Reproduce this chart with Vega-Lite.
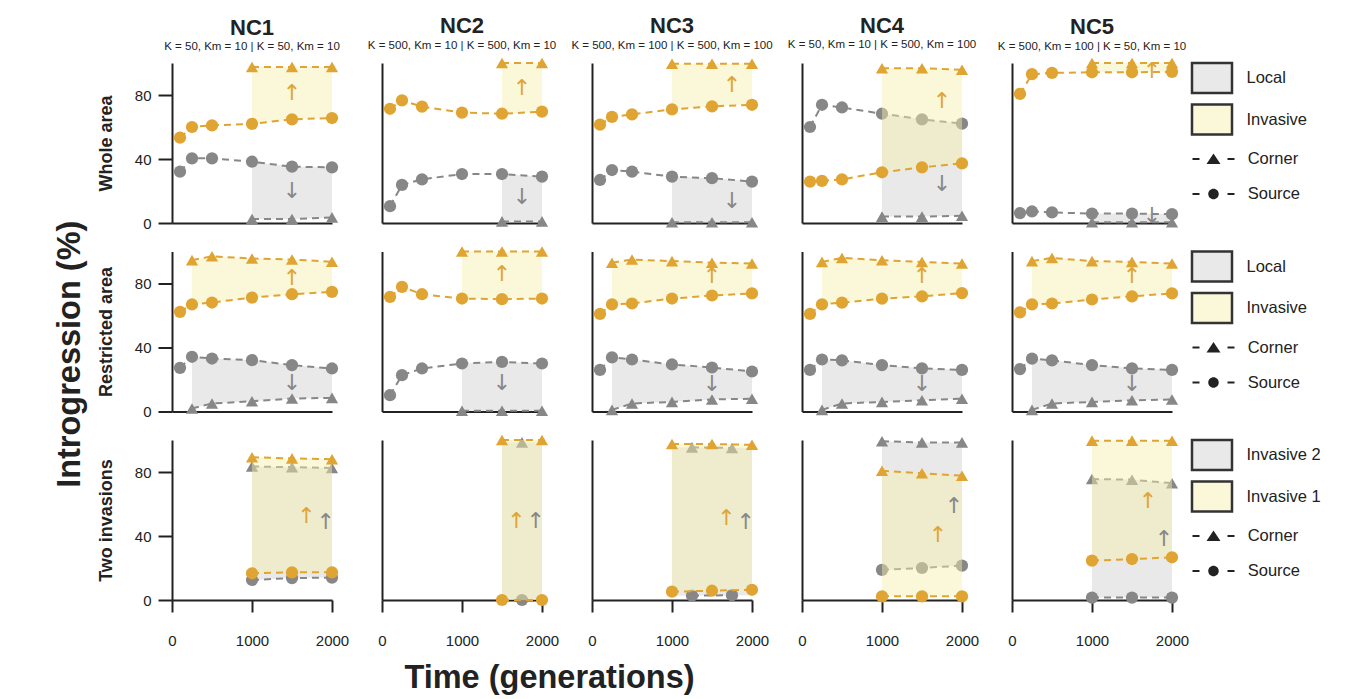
{
"$schema":"https://vega.github.io/schema/vega-lite/v6.json",
"padding":{"left":53,"top":14,"right":5,"bottom":2},
"title":{"text":"Introgression (%)","orient":"left","anchor":"middle","fontSize":32.5,"offset":11},
"datasets":{"d":[
{"p":11,"s":"o","l":"Source","t":100,"v":53.4},{"p":11,"s":"o","l":"Source","t":250,"v":60},{"p":11,"s":"o","l":"Source","t":500,"v":61},{"p":11,"s":"o","l":"Source","t":1000,"v":62},{"p":11,"s":"o","l":"Source","t":1500,"v":64.8},{"p":11,"s":"o","l":"Source","t":2000,"v":65.6},
{"p":11,"s":"g","l":"Source","t":100,"v":32.1},{"p":11,"s":"g","l":"Source","t":250,"v":40.4},{"p":11,"s":"g","l":"Source","t":500,"v":40.4},{"p":11,"s":"g","l":"Source","t":1000,"v":38.3},{"p":11,"s":"g","l":"Source","t":1500,"v":35.2},{"p":11,"s":"g","l":"Source","t":2000,"v":34.8},
{"p":11,"s":"o","l":"Corner","t":1000,"v":97.5},{"p":11,"s":"o","l":"Corner","t":1500,"v":97.5},{"p":11,"s":"o","l":"Corner","t":2000,"v":97.5},
{"p":11,"s":"g","l":"Corner","t":1000,"v":2.5},{"p":11,"s":"g","l":"Corner","t":1500,"v":2.5},{"p":11,"s":"g","l":"Corner","t":2000,"v":3.5},
{"p":11,"s":"g","b":"Local","t":1000,"lo":2.5,"hi":38.3},{"p":11,"s":"g","b":"Local","t":1500,"lo":2.5,"hi":35.2},{"p":11,"s":"g","b":"Local","t":2000,"lo":3.5,"hi":34.8},
{"p":11,"s":"o","b":"Invasive","t":1000,"lo":62,"hi":97.5},{"p":11,"s":"o","b":"Invasive","t":1500,"lo":64.8,"hi":97.5},{"p":11,"s":"o","b":"Invasive","t":2000,"lo":65.6,"hi":97.5},
{"p":11,"s":"o","a":"↑","t":1500,"v":81.3},{"p":11,"s":"g","a":"↓","t":1500,"v":19.7},

{"p":12,"s":"o","l":"Source","t":100,"v":71.4},{"p":12,"s":"o","l":"Source","t":250,"v":76.6},{"p":12,"s":"o","l":"Source","t":500,"v":72.7},{"p":12,"s":"o","l":"Source","t":1000,"v":69},{"p":12,"s":"o","l":"Source","t":1500,"v":68.3},{"p":12,"s":"o","l":"Source","t":2000,"v":69.6},
{"p":12,"s":"g","l":"Source","t":100,"v":10.5},{"p":12,"s":"g","l":"Source","t":250,"v":23.8},{"p":12,"s":"g","l":"Source","t":500,"v":27.3},{"p":12,"s":"g","l":"Source","t":1000,"v":30.6},{"p":12,"s":"g","l":"Source","t":1500,"v":30.6},{"p":12,"s":"g","l":"Source","t":2000,"v":29},
{"p":12,"s":"o","l":"Corner","t":1500,"v":100},{"p":12,"s":"o","l":"Corner","t":2000,"v":100},
{"p":12,"s":"g","l":"Corner","t":1500,"v":1},{"p":12,"s":"g","l":"Corner","t":2000,"v":1},
{"p":12,"s":"g","b":"Local","t":1500,"lo":1,"hi":30.6},{"p":12,"s":"g","b":"Local","t":2000,"lo":1,"hi":29},
{"p":12,"s":"o","b":"Invasive","t":1500,"lo":68.3,"hi":100},{"p":12,"s":"o","b":"Invasive","t":2000,"lo":69.6,"hi":100},
{"p":12,"s":"o","a":"↑","t":1750,"v":84.3},{"p":12,"s":"g","a":"↓","t":1750,"v":16},

{"p":13,"s":"o","l":"Source","t":100,"v":61.5},{"p":13,"s":"o","l":"Source","t":250,"v":66.3},{"p":13,"s":"o","l":"Source","t":500,"v":67.9},{"p":13,"s":"o","l":"Source","t":1000,"v":71},{"p":13,"s":"o","l":"Source","t":1500,"v":72.9},{"p":13,"s":"o","l":"Source","t":2000,"v":73.9},
{"p":13,"s":"g","l":"Source","t":100,"v":26.9},{"p":13,"s":"g","l":"Source","t":250,"v":33.1},{"p":13,"s":"g","l":"Source","t":500,"v":32.1},{"p":13,"s":"g","l":"Source","t":1000,"v":29},{"p":13,"s":"g","l":"Source","t":1500,"v":28},{"p":13,"s":"g","l":"Source","t":2000,"v":25.9},
{"p":13,"s":"o","l":"Corner","t":1000,"v":99.5},{"p":13,"s":"o","l":"Corner","t":1500,"v":99.5},{"p":13,"s":"o","l":"Corner","t":2000,"v":99.5},
{"p":13,"s":"g","l":"Corner","t":1000,"v":0.5},{"p":13,"s":"g","l":"Corner","t":1500,"v":0.5},{"p":13,"s":"g","l":"Corner","t":2000,"v":0.5},
{"p":13,"s":"g","b":"Local","t":1000,"lo":0.5,"hi":29},{"p":13,"s":"g","b":"Local","t":1500,"lo":0.5,"hi":28},{"p":13,"s":"g","b":"Local","t":2000,"lo":0.5,"hi":25.9},
{"p":13,"s":"o","b":"Invasive","t":1000,"lo":71,"hi":99.5},{"p":13,"s":"o","b":"Invasive","t":1500,"lo":72.9,"hi":99.5},{"p":13,"s":"o","b":"Invasive","t":2000,"lo":73.9,"hi":99.5},
{"p":13,"s":"o","a":"↑","t":1750,"v":86.4},{"p":13,"s":"g","a":"↓","t":1750,"v":14},

{"p":14,"s":"o","l":"Source","t":100,"v":25.9},{"p":14,"s":"o","l":"Source","t":250,"v":26.3},{"p":14,"s":"o","l":"Source","t":500,"v":27.3},{"p":14,"s":"o","l":"Source","t":1000,"v":31.7},{"p":14,"s":"o","l":"Source","t":1500,"v":34.8},{"p":14,"s":"o","l":"Source","t":2000,"v":37.3},
{"p":14,"s":"g","l":"Source","t":100,"v":60},{"p":14,"s":"g","l":"Source","t":250,"v":73.9},{"p":14,"s":"g","l":"Source","t":500,"v":72.2},{"p":14,"s":"g","l":"Source","t":1000,"v":68.3},{"p":14,"s":"g","l":"Source","t":1500,"v":64.8},{"p":14,"s":"g","l":"Source","t":2000,"v":62.1},
{"p":14,"s":"o","l":"Corner","t":1000,"v":96.7},{"p":14,"s":"o","l":"Corner","t":1500,"v":96.7},{"p":14,"s":"o","l":"Corner","t":2000,"v":95.8},
{"p":14,"s":"g","l":"Corner","t":1000,"v":4},{"p":14,"s":"g","l":"Corner","t":1500,"v":4},{"p":14,"s":"g","l":"Corner","t":2000,"v":4.5},
{"p":14,"s":"g","b":"Local","t":1000,"lo":4,"hi":68.3},{"p":14,"s":"g","b":"Local","t":1500,"lo":4,"hi":64.8},{"p":14,"s":"g","b":"Local","t":2000,"lo":4.5,"hi":62.1},
{"p":14,"s":"o","b":"Invasive","t":1000,"lo":31.7,"hi":96.7},{"p":14,"s":"o","b":"Invasive","t":1500,"lo":34.8,"hi":96.7},{"p":14,"s":"o","b":"Invasive","t":2000,"lo":37.3,"hi":95.8},
{"p":14,"s":"o","a":"↑","t":1750,"v":76},{"p":14,"s":"g","a":"↓","t":1750,"v":24.3},

{"p":15,"s":"o","l":"Source","t":100,"v":80.7},{"p":15,"s":"o","l":"Source","t":250,"v":93},{"p":15,"s":"o","l":"Source","t":500,"v":93.8},{"p":15,"s":"o","l":"Source","t":1000,"v":94.2},{"p":15,"s":"o","l":"Source","t":1500,"v":94.2},{"p":15,"s":"o","l":"Source","t":2000,"v":94.5},
{"p":15,"s":"g","l":"Source","t":100,"v":6.2},{"p":15,"s":"g","l":"Source","t":250,"v":7.2},{"p":15,"s":"g","l":"Source","t":500,"v":6.6},{"p":15,"s":"g","l":"Source","t":1000,"v":5.9},{"p":15,"s":"g","l":"Source","t":1500,"v":5.9},{"p":15,"s":"g","l":"Source","t":2000,"v":5.5},
{"p":15,"s":"o","l":"Corner","t":1000,"v":100},{"p":15,"s":"o","l":"Corner","t":1500,"v":100},{"p":15,"s":"o","l":"Corner","t":2000,"v":100},
{"p":15,"s":"g","l":"Corner","t":1000,"v":0.5},{"p":15,"s":"g","l":"Corner","t":1500,"v":0.5},{"p":15,"s":"g","l":"Corner","t":2000,"v":0.5},
{"p":15,"s":"g","b":"Local","t":1000,"lo":0.5,"hi":5.9},{"p":15,"s":"g","b":"Local","t":1500,"lo":0.5,"hi":5.9},{"p":15,"s":"g","b":"Local","t":2000,"lo":0.5,"hi":5.5},
{"p":15,"s":"o","b":"Invasive","t":1000,"lo":94.2,"hi":100},{"p":15,"s":"o","b":"Invasive","t":1500,"lo":94.2,"hi":100},{"p":15,"s":"o","b":"Invasive","t":2000,"lo":94.5,"hi":100},
{"p":15,"s":"o","a":"↑","t":1750,"v":94.7},{"p":15,"s":"g","a":"↓","t":1750,"v":4.5},

{"p":21,"s":"o","l":"Source","t":100,"v":62.3},{"p":21,"s":"o","l":"Source","t":250,"v":66.9},{"p":21,"s":"o","l":"Source","t":500,"v":68.1},{"p":21,"s":"o","l":"Source","t":1000,"v":71.2},{"p":21,"s":"o","l":"Source","t":1500,"v":73.3},{"p":21,"s":"o","l":"Source","t":2000,"v":74.8},
{"p":21,"s":"g","l":"Source","t":100,"v":27.3},{"p":21,"s":"g","l":"Source","t":250,"v":34.2},{"p":21,"s":"g","l":"Source","t":500,"v":33.1},{"p":21,"s":"g","l":"Source","t":1000,"v":32.1},{"p":21,"s":"g","l":"Source","t":1500,"v":29},{"p":21,"s":"g","l":"Source","t":2000,"v":26.9},
{"p":21,"s":"o","l":"Corner","t":250,"v":94.6},{"p":21,"s":"o","l":"Corner","t":500,"v":97},{"p":21,"s":"o","l":"Corner","t":1000,"v":95.6},{"p":21,"s":"o","l":"Corner","t":1500,"v":95},{"p":21,"s":"o","l":"Corner","t":2000,"v":93.6},
{"p":21,"s":"g","l":"Corner","t":250,"v":1.9},{"p":21,"s":"g","l":"Corner","t":500,"v":5},{"p":21,"s":"g","l":"Corner","t":1000,"v":6.4},{"p":21,"s":"g","l":"Corner","t":1500,"v":8.1},{"p":21,"s":"g","l":"Corner","t":2000,"v":8.5},
{"p":21,"s":"g","b":"Local","t":250,"lo":1.9,"hi":34.2},{"p":21,"s":"g","b":"Local","t":500,"lo":5,"hi":33.1},{"p":21,"s":"g","b":"Local","t":1000,"lo":6.4,"hi":32.1},{"p":21,"s":"g","b":"Local","t":1500,"lo":8.1,"hi":29},{"p":21,"s":"g","b":"Local","t":2000,"lo":8.5,"hi":26.9},
{"p":21,"s":"o","b":"Invasive","t":250,"lo":66.9,"hi":94.6},{"p":21,"s":"o","b":"Invasive","t":500,"lo":68.1,"hi":97},{"p":21,"s":"o","b":"Invasive","t":1000,"lo":71.2,"hi":95.6},{"p":21,"s":"o","b":"Invasive","t":1500,"lo":73.3,"hi":95},{"p":21,"s":"o","b":"Invasive","t":2000,"lo":74.8,"hi":93.6},
{"p":21,"s":"o","a":"↑","t":1500,"v":83.6},{"p":21,"s":"g","a":"↓","t":1500,"v":18},

{"p":22,"s":"o","l":"Source","t":100,"v":71.6},{"p":22,"s":"o","l":"Source","t":250,"v":77.9},{"p":22,"s":"o","l":"Source","t":500,"v":73.3},{"p":22,"s":"o","l":"Source","t":1000,"v":70.6},{"p":22,"s":"o","l":"Source","t":1500,"v":70.2},{"p":22,"s":"o","l":"Source","t":2000,"v":70.6},
{"p":22,"s":"g","l":"Source","t":100,"v":10.2},{"p":22,"s":"g","l":"Source","t":250,"v":22.7},{"p":22,"s":"g","l":"Source","t":500,"v":26.9},{"p":22,"s":"g","l":"Source","t":1000,"v":30},{"p":22,"s":"g","l":"Source","t":1500,"v":31},{"p":22,"s":"g","l":"Source","t":2000,"v":30},
{"p":22,"s":"o","l":"Corner","t":1000,"v":100},{"p":22,"s":"o","l":"Corner","t":1500,"v":100},{"p":22,"s":"o","l":"Corner","t":2000,"v":100},
{"p":22,"s":"g","l":"Corner","t":1000,"v":0.5},{"p":22,"s":"g","l":"Corner","t":1500,"v":0.5},{"p":22,"s":"g","l":"Corner","t":2000,"v":0.5},
{"p":22,"s":"g","b":"Local","t":1000,"lo":0.5,"hi":30},{"p":22,"s":"g","b":"Local","t":1500,"lo":0.5,"hi":31},{"p":22,"s":"g","b":"Local","t":2000,"lo":0.5,"hi":30},
{"p":22,"s":"o","b":"Invasive","t":1000,"lo":70.6,"hi":100},{"p":22,"s":"o","b":"Invasive","t":1500,"lo":70.2,"hi":100},{"p":22,"s":"o","b":"Invasive","t":2000,"lo":70.6,"hi":100},
{"p":22,"s":"o","a":"↑","t":1500,"v":85.7},{"p":22,"s":"g","a":"↓","t":1500,"v":18},

{"p":23,"s":"o","l":"Source","t":100,"v":61},{"p":23,"s":"o","l":"Source","t":250,"v":67},{"p":23,"s":"o","l":"Source","t":500,"v":67.5},{"p":23,"s":"o","l":"Source","t":1000,"v":70.6},{"p":23,"s":"o","l":"Source","t":1500,"v":72.5},{"p":23,"s":"o","l":"Source","t":2000,"v":73.8},
{"p":23,"s":"g","l":"Source","t":100,"v":26},{"p":23,"s":"g","l":"Source","t":250,"v":33.8},{"p":23,"s":"g","l":"Source","t":500,"v":32.5},{"p":23,"s":"g","l":"Source","t":1000,"v":29.4},{"p":23,"s":"g","l":"Source","t":1500,"v":27.5},{"p":23,"s":"g","l":"Source","t":2000,"v":25},
{"p":23,"s":"o","l":"Corner","t":250,"v":93},{"p":23,"s":"o","l":"Corner","t":500,"v":95},{"p":23,"s":"o","l":"Corner","t":1000,"v":94},{"p":23,"s":"o","l":"Corner","t":1500,"v":93},{"p":23,"s":"o","l":"Corner","t":2000,"v":92.5},
{"p":23,"s":"g","l":"Corner","t":250,"v":1},{"p":23,"s":"g","l":"Corner","t":500,"v":5},{"p":23,"s":"g","l":"Corner","t":1000,"v":6},{"p":23,"s":"g","l":"Corner","t":1500,"v":7.5},{"p":23,"s":"g","l":"Corner","t":2000,"v":8},
{"p":23,"s":"g","b":"Local","t":250,"lo":1,"hi":33.8},{"p":23,"s":"g","b":"Local","t":500,"lo":5,"hi":32.5},{"p":23,"s":"g","b":"Local","t":1000,"lo":6,"hi":29.4},{"p":23,"s":"g","b":"Local","t":1500,"lo":7.5,"hi":27.5},{"p":23,"s":"g","b":"Local","t":2000,"lo":8,"hi":25},
{"p":23,"s":"o","b":"Invasive","t":250,"lo":67,"hi":93},{"p":23,"s":"o","b":"Invasive","t":500,"lo":67.5,"hi":95},{"p":23,"s":"o","b":"Invasive","t":1000,"lo":70.6,"hi":94},{"p":23,"s":"o","b":"Invasive","t":1500,"lo":72.5,"hi":93},{"p":23,"s":"o","b":"Invasive","t":2000,"lo":73.8,"hi":92.5},
{"p":23,"s":"o","a":"↑","t":1500,"v":85},{"p":23,"s":"g","a":"↓","t":1500,"v":17},

{"p":24,"s":"o","l":"Source","t":100,"v":61},{"p":24,"s":"o","l":"Source","t":250,"v":67},{"p":24,"s":"o","l":"Source","t":500,"v":68},{"p":24,"s":"o","l":"Source","t":1000,"v":70.5},{"p":24,"s":"o","l":"Source","t":1500,"v":72},{"p":24,"s":"o","l":"Source","t":2000,"v":74},
{"p":24,"s":"g","l":"Source","t":100,"v":26},{"p":24,"s":"g","l":"Source","t":250,"v":32.5},{"p":24,"s":"g","l":"Source","t":500,"v":32},{"p":24,"s":"g","l":"Source","t":1000,"v":29},{"p":24,"s":"g","l":"Source","t":1500,"v":27},{"p":24,"s":"g","l":"Source","t":2000,"v":26},
{"p":24,"s":"o","l":"Corner","t":250,"v":93.5},{"p":24,"s":"o","l":"Corner","t":500,"v":96},{"p":24,"s":"o","l":"Corner","t":1000,"v":94.5},{"p":24,"s":"o","l":"Corner","t":1500,"v":93.5},{"p":24,"s":"o","l":"Corner","t":2000,"v":92.5},
{"p":24,"s":"g","l":"Corner","t":250,"v":1},{"p":24,"s":"g","l":"Corner","t":500,"v":5},{"p":24,"s":"g","l":"Corner","t":1000,"v":6},{"p":24,"s":"g","l":"Corner","t":1500,"v":7},{"p":24,"s":"g","l":"Corner","t":2000,"v":8},
{"p":24,"s":"g","b":"Local","t":250,"lo":1,"hi":32.5},{"p":24,"s":"g","b":"Local","t":500,"lo":5,"hi":32},{"p":24,"s":"g","b":"Local","t":1000,"lo":6,"hi":29},{"p":24,"s":"g","b":"Local","t":1500,"lo":7,"hi":27},{"p":24,"s":"g","b":"Local","t":2000,"lo":8,"hi":26},
{"p":24,"s":"o","b":"Invasive","t":250,"lo":67,"hi":93.5},{"p":24,"s":"o","b":"Invasive","t":500,"lo":68,"hi":96},{"p":24,"s":"o","b":"Invasive","t":1000,"lo":70.5,"hi":94.5},{"p":24,"s":"o","b":"Invasive","t":1500,"lo":72,"hi":93.5},{"p":24,"s":"o","b":"Invasive","t":2000,"lo":74,"hi":92.5},
{"p":24,"s":"o","a":"↑","t":1500,"v":85},{"p":24,"s":"g","a":"↓","t":1500,"v":17},

{"p":25,"s":"o","l":"Source","t":100,"v":62},{"p":25,"s":"o","l":"Source","t":250,"v":67},{"p":25,"s":"o","l":"Source","t":500,"v":67.5},{"p":25,"s":"o","l":"Source","t":1000,"v":70},{"p":25,"s":"o","l":"Source","t":1500,"v":72},{"p":25,"s":"o","l":"Source","t":2000,"v":73.8},
{"p":25,"s":"g","l":"Source","t":100,"v":26.5},{"p":25,"s":"g","l":"Source","t":250,"v":33},{"p":25,"s":"g","l":"Source","t":500,"v":32},{"p":25,"s":"g","l":"Source","t":1000,"v":29},{"p":25,"s":"g","l":"Source","t":1500,"v":27},{"p":25,"s":"g","l":"Source","t":2000,"v":26},
{"p":25,"s":"o","l":"Corner","t":250,"v":94},{"p":25,"s":"o","l":"Corner","t":500,"v":96},{"p":25,"s":"o","l":"Corner","t":1000,"v":94},{"p":25,"s":"o","l":"Corner","t":1500,"v":93.5},{"p":25,"s":"o","l":"Corner","t":2000,"v":92.5},
{"p":25,"s":"g","l":"Corner","t":250,"v":1},{"p":25,"s":"g","l":"Corner","t":500,"v":5},{"p":25,"s":"g","l":"Corner","t":1000,"v":6},{"p":25,"s":"g","l":"Corner","t":1500,"v":7},{"p":25,"s":"g","l":"Corner","t":2000,"v":7.5},
{"p":25,"s":"g","b":"Local","t":250,"lo":1,"hi":33},{"p":25,"s":"g","b":"Local","t":500,"lo":5,"hi":32},{"p":25,"s":"g","b":"Local","t":1000,"lo":6,"hi":29},{"p":25,"s":"g","b":"Local","t":1500,"lo":7,"hi":27},{"p":25,"s":"g","b":"Local","t":2000,"lo":7.5,"hi":26},
{"p":25,"s":"o","b":"Invasive","t":250,"lo":67,"hi":94},{"p":25,"s":"o","b":"Invasive","t":500,"lo":67.5,"hi":96},{"p":25,"s":"o","b":"Invasive","t":1000,"lo":70,"hi":94},{"p":25,"s":"o","b":"Invasive","t":1500,"lo":72,"hi":93.5},{"p":25,"s":"o","b":"Invasive","t":2000,"lo":73.8,"hi":92.5},
{"p":25,"s":"o","a":"↑","t":1500,"v":85},{"p":25,"s":"g","a":"↓","t":1500,"v":17},

{"p":31,"s":"o","l":"Corner","t":1000,"v":89.2},{"p":31,"s":"o","l":"Corner","t":1500,"v":88.5},{"p":31,"s":"o","l":"Corner","t":2000,"v":88},
{"p":31,"s":"g","l":"Corner","t":1000,"v":83.5},{"p":31,"s":"g","l":"Corner","t":1500,"v":83},{"p":31,"s":"g","l":"Corner","t":2000,"v":82.5},
{"p":31,"s":"o","l":"Source","t":1000,"v":16.7},{"p":31,"s":"o","l":"Source","t":1500,"v":17.3},{"p":31,"s":"o","l":"Source","t":2000,"v":17.3},
{"p":31,"s":"g","l":"Source","t":1000,"v":12.5},{"p":31,"s":"g","l":"Source","t":1500,"v":13.7},{"p":31,"s":"g","l":"Source","t":2000,"v":14},
{"p":31,"s":"g","b":"Invasive 2","t":1000,"lo":12.5,"hi":83.5},{"p":31,"s":"g","b":"Invasive 2","t":1500,"lo":13.7,"hi":83},{"p":31,"s":"g","b":"Invasive 2","t":2000,"lo":14,"hi":82.5},
{"p":31,"s":"o","b":"Invasive 1","t":1000,"lo":16.7,"hi":89.2},{"p":31,"s":"o","b":"Invasive 1","t":1500,"lo":17.3,"hi":88.5},{"p":31,"s":"o","b":"Invasive 1","t":2000,"lo":17.3,"hi":88},
{"p":31,"s":"o","a":"↑","t":1680,"v":52.5},{"p":31,"s":"g","a":"↑","t":1920,"v":48.5},

{"p":32,"s":"o","l":"Corner","t":1500,"v":100},{"p":32,"s":"o","l":"Corner","t":2000,"v":100},
{"p":32,"s":"o","l":"Source","t":1500,"v":0},{"p":32,"s":"o","l":"Source","t":2000,"v":0},
{"p":32,"s":"g","l":"Corner","t":1750,"v":98.5},{"p":32,"s":"g","l":"Source","t":1750,"v":0},
{"p":32,"s":"g","b":"Invasive 2","t":1500,"lo":0,"hi":98.5},{"p":32,"s":"g","b":"Invasive 2","t":2000,"lo":0,"hi":98.5},
{"p":32,"s":"o","b":"Invasive 1","t":1500,"lo":0,"hi":100},{"p":32,"s":"o","b":"Invasive 1","t":2000,"lo":0,"hi":100},
{"p":32,"s":"o","a":"↑","t":1680,"v":49.6},{"p":32,"s":"g","a":"↑","t":1920,"v":49.6},

{"p":33,"s":"o","l":"Corner","t":1000,"v":97.5},{"p":33,"s":"o","l":"Corner","t":1500,"v":97.5},{"p":33,"s":"o","l":"Corner","t":2000,"v":97},
{"p":33,"s":"g","l":"Corner","t":1250,"v":95.4},{"p":33,"s":"g","l":"Corner","t":1750,"v":95},
{"p":33,"s":"o","l":"Source","t":1000,"v":5.2},{"p":33,"s":"o","l":"Source","t":1500,"v":5.8},{"p":33,"s":"o","l":"Source","t":2000,"v":6.4},
{"p":33,"s":"g","l":"Source","t":1250,"v":2.7},{"p":33,"s":"g","l":"Source","t":1750,"v":3},
{"p":33,"s":"g","b":"Invasive 2","t":1000,"lo":2.7,"hi":95.4},{"p":33,"s":"g","b":"Invasive 2","t":2000,"lo":3,"hi":95},
{"p":33,"s":"o","b":"Invasive 1","t":1000,"lo":5.2,"hi":97.5},{"p":33,"s":"o","b":"Invasive 1","t":1500,"lo":5.8,"hi":97.5},{"p":33,"s":"o","b":"Invasive 1","t":2000,"lo":6.4,"hi":97},
{"p":33,"s":"o","a":"↑","t":1680,"v":51.5},{"p":33,"s":"g","a":"↑","t":1920,"v":49},

{"p":34,"s":"g","l":"Corner","t":1000,"v":99.2},{"p":34,"s":"g","l":"Corner","t":1500,"v":98.5},{"p":34,"s":"g","l":"Corner","t":2000,"v":98.5},
{"p":34,"s":"o","l":"Corner","t":1000,"v":80.8},{"p":34,"s":"o","l":"Corner","t":1500,"v":79.2},{"p":34,"s":"o","l":"Corner","t":2000,"v":77.7},
{"p":34,"s":"g","l":"Source","t":1000,"v":18.8},{"p":34,"s":"g","l":"Source","t":1500,"v":20},{"p":34,"s":"g","l":"Source","t":2000,"v":21.5},
{"p":34,"s":"o","l":"Source","t":1000,"v":2.3},{"p":34,"s":"o","l":"Source","t":1500,"v":2.3},{"p":34,"s":"o","l":"Source","t":2000,"v":2.3},
{"p":34,"s":"g","b":"Invasive 2","t":1000,"lo":18.8,"hi":99.2},{"p":34,"s":"g","b":"Invasive 2","t":1500,"lo":20,"hi":98.5},{"p":34,"s":"g","b":"Invasive 2","t":2000,"lo":21.5,"hi":98.5},
{"p":34,"s":"o","b":"Invasive 1","t":1000,"lo":2.3,"hi":80.8},{"p":34,"s":"o","b":"Invasive 1","t":1500,"lo":2.3,"hi":79.2},{"p":34,"s":"o","b":"Invasive 1","t":2000,"lo":2.3,"hi":77.7},
{"p":34,"s":"o","a":"↑","t":1700,"v":40.5},{"p":34,"s":"g","a":"↑","t":1900,"v":59},

{"p":35,"s":"o","l":"Corner","t":1000,"v":99.6},{"p":35,"s":"o","l":"Corner","t":1500,"v":99.6},{"p":35,"s":"o","l":"Corner","t":2000,"v":99.5},
{"p":35,"s":"g","l":"Corner","t":1000,"v":75.6},{"p":35,"s":"g","l":"Corner","t":1500,"v":75.2},{"p":35,"s":"g","l":"Corner","t":2000,"v":73},
{"p":35,"s":"o","l":"Source","t":1000,"v":24.6},{"p":35,"s":"o","l":"Source","t":1500,"v":25.6},{"p":35,"s":"o","l":"Source","t":2000,"v":26.7},
{"p":35,"s":"g","l":"Source","t":1000,"v":1.5},{"p":35,"s":"g","l":"Source","t":1500,"v":1.5},{"p":35,"s":"g","l":"Source","t":2000,"v":1.5},
{"p":35,"s":"g","b":"Invasive 2","t":1000,"lo":1.5,"hi":75.6},{"p":35,"s":"g","b":"Invasive 2","t":1500,"lo":1.5,"hi":75.2},{"p":35,"s":"g","b":"Invasive 2","t":2000,"lo":1.5,"hi":73},
{"p":35,"s":"o","b":"Invasive 1","t":1000,"lo":24.6,"hi":99.6},{"p":35,"s":"o","b":"Invasive 1","t":1500,"lo":25.6,"hi":99.6},{"p":35,"s":"o","b":"Invasive 1","t":2000,"lo":26.7,"hi":99.5},
{"p":35,"s":"o","a":"↑","t":1700,"v":62},{"p":35,"s":"g","a":"↑","t":1900,"v":38}
]},
"data":{"name":"d"},
"spacing":14.5,
"resolve":{"scale":{"fill":"independent","shape":"independent","color":"independent"},"legend":{"fill":"independent","shape":"independent"}},
"vconcat":[
{"spacing":50,"bounds":"flush","resolve":{"scale":{"fill":"independent","shape":"independent","color":"independent"},"legend":{"fill":"independent","shape":"independent"}},
"hconcat":[
{"width":160,"height":160,"transform":[{"filter":"datum.p==11"}],"title":{"text":"NC1","subtitle":"K = 50, Km = 10 | K = 50, Km = 10","offset":8},
"encoding":{"x":{"field":"t","type":"quantitative","scale":{"domain":[0,2000]},"axis":{"labels":false,"ticks":false,"title":null}}},
"layer":[
{"transform":[{"filter":"datum.b&&datum.s=='g'"}],"mark":"area","encoding":{"y":{"field":"lo","type":"quantitative","scale":{"domain":[0,100]},"axis":{"values":[0,20,40,60,80,100],"title":"Whole area"}},"y2":{"field":"hi"},"fill":{"field":"b","type":"nominal","sort":"descending","legend":null}}},
{"transform":[{"filter":"datum.l&&datum.s=='g'"}],"mark":{"type":"line","color":"#878787"},"encoding":{"y":{"field":"v","type":"quantitative"},"detail":{"field":"l"}}},
{"transform":[{"filter":"datum.l&&datum.s=='g'"}],"mark":{"type":"point","color":"#878787"},"encoding":{"y":{"field":"v","type":"quantitative"},"shape":{"field":"l","type":"nominal","scale":{"domain":["Corner","Source"],"range":["triangle-up","circle"]},"legend":null}}},
{"transform":[{"filter":"datum.b&&datum.s=='o'"}],"mark":"area","encoding":{"y":{"field":"lo","type":"quantitative"},"y2":{"field":"hi"},"fill":{"field":"b","type":"nominal","sort":"descending","legend":null}}},
{"transform":[{"filter":"datum.l&&datum.s=='o'"}],"mark":{"type":"line","color":"#E0A433"},"encoding":{"y":{"field":"v","type":"quantitative"},"detail":{"field":"l"}}},
{"transform":[{"filter":"datum.l&&datum.s=='o'"}],"mark":{"type":"point","color":"#E0A433"},"encoding":{"y":{"field":"v","type":"quantitative"},"shape":{"field":"l","type":"nominal","scale":{"domain":["Corner","Source"],"range":["triangle-up","circle"]},"legend":null}}},
{"transform":[{"filter":"datum.a"}],"mark":"text","encoding":{"y":{"field":"v","type":"quantitative"},"text":{"field":"a"},"color":{"field":"s","type":"nominal","scale":{"range":["#878787","#E0A433"]},"legend":null}}}
]},
{"width":160,"height":160,"transform":[{"filter":"datum.p==12"}],"title":{"text":"NC2","subtitle":"K = 500, Km = 10 | K = 500, Km = 10","offset":5.2},
"encoding":{"x":{"field":"t","type":"quantitative","scale":{"domain":[0,2000]},"axis":{"labels":false,"ticks":false,"title":null}}},
"layer":[
{"transform":[{"filter":"datum.b&&datum.s=='g'"}],"mark":"area","encoding":{"y":{"field":"lo","type":"quantitative","scale":{"domain":[0,100]},"axis":{"labels":false,"ticks":false,"title":null}},"y2":{"field":"hi"},"fill":{"field":"b","type":"nominal","sort":"descending","legend":null}}},
{"transform":[{"filter":"datum.l&&datum.s=='g'"}],"mark":{"type":"line","color":"#878787"},"encoding":{"y":{"field":"v","type":"quantitative"},"detail":{"field":"l"}}},
{"transform":[{"filter":"datum.l&&datum.s=='g'"}],"mark":{"type":"point","color":"#878787"},"encoding":{"y":{"field":"v","type":"quantitative"},"shape":{"field":"l","type":"nominal","scale":{"domain":["Corner","Source"],"range":["triangle-up","circle"]},"legend":null}}},
{"transform":[{"filter":"datum.b&&datum.s=='o'"}],"mark":"area","encoding":{"y":{"field":"lo","type":"quantitative"},"y2":{"field":"hi"},"fill":{"field":"b","type":"nominal","sort":"descending","legend":null}}},
{"transform":[{"filter":"datum.l&&datum.s=='o'"}],"mark":{"type":"line","color":"#E0A433"},"encoding":{"y":{"field":"v","type":"quantitative"},"detail":{"field":"l"}}},
{"transform":[{"filter":"datum.l&&datum.s=='o'"}],"mark":{"type":"point","color":"#E0A433"},"encoding":{"y":{"field":"v","type":"quantitative"},"shape":{"field":"l","type":"nominal","scale":{"domain":["Corner","Source"],"range":["triangle-up","circle"]},"legend":null}}},
{"transform":[{"filter":"datum.a"}],"mark":"text","encoding":{"y":{"field":"v","type":"quantitative"},"text":{"field":"a"},"color":{"field":"s","type":"nominal","scale":{"range":["#878787","#E0A433"]},"legend":null}}}
]},
{"width":160,"height":160,"transform":[{"filter":"datum.p==13"}],"title":{"text":"NC3","subtitle":"K = 500, Km = 100 | K = 500, Km = 100","offset":6},
"encoding":{"x":{"field":"t","type":"quantitative","scale":{"domain":[0,2000]},"axis":{"labels":false,"ticks":false,"title":null}}},
"layer":[
{"transform":[{"filter":"datum.b&&datum.s=='g'"}],"mark":"area","encoding":{"y":{"field":"lo","type":"quantitative","scale":{"domain":[0,100]},"axis":{"labels":false,"ticks":false,"title":null}},"y2":{"field":"hi"},"fill":{"field":"b","type":"nominal","sort":"descending","legend":null}}},
{"transform":[{"filter":"datum.l&&datum.s=='g'"}],"mark":{"type":"line","color":"#878787"},"encoding":{"y":{"field":"v","type":"quantitative"},"detail":{"field":"l"}}},
{"transform":[{"filter":"datum.l&&datum.s=='g'"}],"mark":{"type":"point","color":"#878787"},"encoding":{"y":{"field":"v","type":"quantitative"},"shape":{"field":"l","type":"nominal","scale":{"domain":["Corner","Source"],"range":["triangle-up","circle"]},"legend":null}}},
{"transform":[{"filter":"datum.b&&datum.s=='o'"}],"mark":"area","encoding":{"y":{"field":"lo","type":"quantitative"},"y2":{"field":"hi"},"fill":{"field":"b","type":"nominal","sort":"descending","legend":null}}},
{"transform":[{"filter":"datum.l&&datum.s=='o'"}],"mark":{"type":"line","color":"#E0A433"},"encoding":{"y":{"field":"v","type":"quantitative"},"detail":{"field":"l"}}},
{"transform":[{"filter":"datum.l&&datum.s=='o'"}],"mark":{"type":"point","color":"#E0A433"},"encoding":{"y":{"field":"v","type":"quantitative"},"shape":{"field":"l","type":"nominal","scale":{"domain":["Corner","Source"],"range":["triangle-up","circle"]},"legend":null}}},
{"transform":[{"filter":"datum.a"}],"mark":"text","encoding":{"y":{"field":"v","type":"quantitative"},"text":{"field":"a"},"color":{"field":"s","type":"nominal","scale":{"range":["#878787","#E0A433"]},"legend":null}}}
]},
{"width":160,"height":160,"transform":[{"filter":"datum.p==14"}],"title":{"text":"NC4","subtitle":"K = 50, Km = 10 | K = 500, Km = 100","offset":11},
"encoding":{"x":{"field":"t","type":"quantitative","scale":{"domain":[0,2000]},"axis":{"labels":false,"ticks":false,"title":null}}},
"layer":[
{"transform":[{"filter":"datum.b&&datum.s=='g'"}],"mark":"area","encoding":{"y":{"field":"lo","type":"quantitative","scale":{"domain":[0,100]},"axis":{"labels":false,"ticks":false,"title":null}},"y2":{"field":"hi"},"fill":{"field":"b","type":"nominal","sort":"descending","legend":null}}},
{"transform":[{"filter":"datum.l&&datum.s=='g'"}],"mark":{"type":"line","color":"#878787"},"encoding":{"y":{"field":"v","type":"quantitative"},"detail":{"field":"l"}}},
{"transform":[{"filter":"datum.l&&datum.s=='g'"}],"mark":{"type":"point","color":"#878787"},"encoding":{"y":{"field":"v","type":"quantitative"},"shape":{"field":"l","type":"nominal","scale":{"domain":["Corner","Source"],"range":["triangle-up","circle"]},"legend":null}}},
{"transform":[{"filter":"datum.b&&datum.s=='o'"}],"mark":"area","encoding":{"y":{"field":"lo","type":"quantitative"},"y2":{"field":"hi"},"fill":{"field":"b","type":"nominal","sort":"descending","legend":null}}},
{"transform":[{"filter":"datum.l&&datum.s=='o'"}],"mark":{"type":"line","color":"#E0A433"},"encoding":{"y":{"field":"v","type":"quantitative"},"detail":{"field":"l"}}},
{"transform":[{"filter":"datum.l&&datum.s=='o'"}],"mark":{"type":"point","color":"#E0A433"},"encoding":{"y":{"field":"v","type":"quantitative"},"shape":{"field":"l","type":"nominal","scale":{"domain":["Corner","Source"],"range":["triangle-up","circle"]},"legend":null}}},
{"transform":[{"filter":"datum.a"}],"mark":"text","encoding":{"y":{"field":"v","type":"quantitative"},"text":{"field":"a"},"color":{"field":"s","type":"nominal","scale":{"range":["#878787","#E0A433"]},"legend":null}}}
]},
{"width":160,"height":160,"transform":[{"filter":"datum.p==15"}],"title":{"text":"NC5","subtitle":"K = 500, Km = 100 | K = 50, Km = 10","offset":4.5},
"resolve":{"scale":{"shape":"independent"},"legend":{"shape":"independent"}},
"encoding":{"x":{"field":"t","type":"quantitative","scale":{"domain":[0,2000]},"axis":{"labels":false,"ticks":false,"title":null}}},
"layer":[
{"transform":[{"filter":"datum.b&&datum.s=='g'"}],"mark":"area","encoding":{"y":{"field":"lo","type":"quantitative","scale":{"domain":[0,100]},"axis":{"labels":false,"ticks":false,"title":null}},"y2":{"field":"hi"},"fill":{"field":"b","type":"nominal","sort":"descending","legend":{"orient":"none","legendX":180,"legendY":-5,"title":null,"symbolType":"M-1.067,-0.8H1.067V0.8H-1.067Z","symbolSize":1406,"symbolStrokeWidth":2.5,"symbolStrokeColor":"#333","symbolOpacity":1,"rowPadding":1.5,"labelOffset":14.5}}}},
{"transform":[{"filter":"datum.l&&datum.s=='g'"}],"mark":{"type":"line","color":"#878787"},"encoding":{"y":{"field":"v","type":"quantitative"},"detail":{"field":"l"}}},
{"transform":[{"filter":"datum.l&&datum.s=='g'"}],"mark":{"type":"point","color":"#878787"},"encoding":{"y":{"field":"v","type":"quantitative"},"shape":{"field":"l","type":"nominal","scale":{"domain":["Corner","Source"],"range":["triangle-up","circle"]},"legend":null}}},
{"transform":[{"filter":"datum.b&&datum.s=='o'"}],"mark":"area","encoding":{"y":{"field":"lo","type":"quantitative"},"y2":{"field":"hi"},"fill":{"field":"b","type":"nominal","sort":"descending","legend":{"orient":"none","legendX":180,"legendY":-5,"title":null,"symbolType":"M-1.067,-0.8H1.067V0.8H-1.067Z","symbolSize":1406,"symbolStrokeWidth":2.5,"symbolStrokeColor":"#333","symbolOpacity":1,"rowPadding":1.5,"labelOffset":14.5}}}},
{"transform":[{"filter":"datum.l&&datum.s=='o'"}],"mark":{"type":"line","color":"#E0A433"},"encoding":{"y":{"field":"v","type":"quantitative"},"detail":{"field":"l"}}},
{"transform":[{"filter":"datum.l&&datum.s=='o'"}],"mark":{"type":"point","color":"#E0A433"},"encoding":{"y":{"field":"v","type":"quantitative"},"shape":{"field":"l","type":"nominal","scale":{"domain":["Corner","Source"],"range":["triangle-up","circle"]},"legend":null}}},
{"transform":[{"filter":"datum.l"}],"mark":{"type":"point","color":"#222","opacity":0},"encoding":{"y":{"field":"v","type":"quantitative"},"shape":{"field":"l","type":"nominal","scale":{"domain":["Corner","Source"],"range":["M-1.2,-0.06H-0.8V0.06H-1.2Z M0.8,-0.06H1.2V0.06H0.8Z M-0.4,0.29L0,-0.31L0.4,0.29Z","M-1.2,-0.06H-0.8V0.06H-1.2Z M0.8,-0.06H1.2V0.06H0.8Z M-0.3,0A0.3,0.3,0,1,0,0.3,0A0.3,0.3,0,1,0,-0.3,0Z"]},"legend":{"orient":"none","legendX":184,"legendY":78.5,"title":null,"symbolSize":1225,"symbolStrokeWidth":0,"symbolFillColor":"#222","symbolOpacity":1,"rowPadding":9,"labelOffset":16.7}}}},
{"transform":[{"filter":"datum.a"}],"mark":"text","encoding":{"y":{"field":"v","type":"quantitative"},"text":{"field":"a"},"color":{"field":"s","type":"nominal","scale":{"range":["#878787","#E0A433"]},"legend":null}}}
]}
]},
{"spacing":50,"bounds":"flush","resolve":{"scale":{"fill":"independent","shape":"independent","color":"independent"},"legend":{"fill":"independent","shape":"independent"}},
"hconcat":[
{"width":160,"height":160,"transform":[{"filter":"datum.p==21"}],
"encoding":{"x":{"field":"t","type":"quantitative","scale":{"domain":[0,2000]},"axis":{"labels":false,"ticks":false,"title":null}}},
"layer":[
{"transform":[{"filter":"datum.b&&datum.s=='g'"}],"mark":"area","encoding":{"y":{"field":"lo","type":"quantitative","scale":{"domain":[0,100]},"axis":{"values":[0,20,40,60,80,100],"title":"Restricted area"}},"y2":{"field":"hi"},"fill":{"field":"b","type":"nominal","sort":"descending","legend":null}}},
{"transform":[{"filter":"datum.l&&datum.s=='g'"}],"mark":{"type":"line","color":"#878787"},"encoding":{"y":{"field":"v","type":"quantitative"},"detail":{"field":"l"}}},
{"transform":[{"filter":"datum.l&&datum.s=='g'"}],"mark":{"type":"point","color":"#878787"},"encoding":{"y":{"field":"v","type":"quantitative"},"shape":{"field":"l","type":"nominal","scale":{"domain":["Corner","Source"],"range":["triangle-up","circle"]},"legend":null}}},
{"transform":[{"filter":"datum.b&&datum.s=='o'"}],"mark":"area","encoding":{"y":{"field":"lo","type":"quantitative"},"y2":{"field":"hi"},"fill":{"field":"b","type":"nominal","sort":"descending","legend":null}}},
{"transform":[{"filter":"datum.l&&datum.s=='o'"}],"mark":{"type":"line","color":"#E0A433"},"encoding":{"y":{"field":"v","type":"quantitative"},"detail":{"field":"l"}}},
{"transform":[{"filter":"datum.l&&datum.s=='o'"}],"mark":{"type":"point","color":"#E0A433"},"encoding":{"y":{"field":"v","type":"quantitative"},"shape":{"field":"l","type":"nominal","scale":{"domain":["Corner","Source"],"range":["triangle-up","circle"]},"legend":null}}},
{"transform":[{"filter":"datum.a"}],"mark":"text","encoding":{"y":{"field":"v","type":"quantitative"},"text":{"field":"a"},"color":{"field":"s","type":"nominal","scale":{"range":["#878787","#E0A433"]},"legend":null}}}
]},
{"width":160,"height":160,"transform":[{"filter":"datum.p==22"}],
"encoding":{"x":{"field":"t","type":"quantitative","scale":{"domain":[0,2000]},"axis":{"labels":false,"ticks":false,"title":null}}},
"layer":[
{"transform":[{"filter":"datum.b&&datum.s=='g'"}],"mark":"area","encoding":{"y":{"field":"lo","type":"quantitative","scale":{"domain":[0,100]},"axis":{"labels":false,"ticks":false,"title":null}},"y2":{"field":"hi"},"fill":{"field":"b","type":"nominal","sort":"descending","legend":null}}},
{"transform":[{"filter":"datum.l&&datum.s=='g'"}],"mark":{"type":"line","color":"#878787"},"encoding":{"y":{"field":"v","type":"quantitative"},"detail":{"field":"l"}}},
{"transform":[{"filter":"datum.l&&datum.s=='g'"}],"mark":{"type":"point","color":"#878787"},"encoding":{"y":{"field":"v","type":"quantitative"},"shape":{"field":"l","type":"nominal","scale":{"domain":["Corner","Source"],"range":["triangle-up","circle"]},"legend":null}}},
{"transform":[{"filter":"datum.b&&datum.s=='o'"}],"mark":"area","encoding":{"y":{"field":"lo","type":"quantitative"},"y2":{"field":"hi"},"fill":{"field":"b","type":"nominal","sort":"descending","legend":null}}},
{"transform":[{"filter":"datum.l&&datum.s=='o'"}],"mark":{"type":"line","color":"#E0A433"},"encoding":{"y":{"field":"v","type":"quantitative"},"detail":{"field":"l"}}},
{"transform":[{"filter":"datum.l&&datum.s=='o'"}],"mark":{"type":"point","color":"#E0A433"},"encoding":{"y":{"field":"v","type":"quantitative"},"shape":{"field":"l","type":"nominal","scale":{"domain":["Corner","Source"],"range":["triangle-up","circle"]},"legend":null}}},
{"transform":[{"filter":"datum.a"}],"mark":"text","encoding":{"y":{"field":"v","type":"quantitative"},"text":{"field":"a"},"color":{"field":"s","type":"nominal","scale":{"range":["#878787","#E0A433"]},"legend":null}}}
]},
{"width":160,"height":160,"transform":[{"filter":"datum.p==23"}],
"encoding":{"x":{"field":"t","type":"quantitative","scale":{"domain":[0,2000]},"axis":{"labels":false,"ticks":false,"title":null}}},
"layer":[
{"transform":[{"filter":"datum.b&&datum.s=='g'"}],"mark":"area","encoding":{"y":{"field":"lo","type":"quantitative","scale":{"domain":[0,100]},"axis":{"labels":false,"ticks":false,"title":null}},"y2":{"field":"hi"},"fill":{"field":"b","type":"nominal","sort":"descending","legend":null}}},
{"transform":[{"filter":"datum.l&&datum.s=='g'"}],"mark":{"type":"line","color":"#878787"},"encoding":{"y":{"field":"v","type":"quantitative"},"detail":{"field":"l"}}},
{"transform":[{"filter":"datum.l&&datum.s=='g'"}],"mark":{"type":"point","color":"#878787"},"encoding":{"y":{"field":"v","type":"quantitative"},"shape":{"field":"l","type":"nominal","scale":{"domain":["Corner","Source"],"range":["triangle-up","circle"]},"legend":null}}},
{"transform":[{"filter":"datum.b&&datum.s=='o'"}],"mark":"area","encoding":{"y":{"field":"lo","type":"quantitative"},"y2":{"field":"hi"},"fill":{"field":"b","type":"nominal","sort":"descending","legend":null}}},
{"transform":[{"filter":"datum.l&&datum.s=='o'"}],"mark":{"type":"line","color":"#E0A433"},"encoding":{"y":{"field":"v","type":"quantitative"},"detail":{"field":"l"}}},
{"transform":[{"filter":"datum.l&&datum.s=='o'"}],"mark":{"type":"point","color":"#E0A433"},"encoding":{"y":{"field":"v","type":"quantitative"},"shape":{"field":"l","type":"nominal","scale":{"domain":["Corner","Source"],"range":["triangle-up","circle"]},"legend":null}}},
{"transform":[{"filter":"datum.a"}],"mark":"text","encoding":{"y":{"field":"v","type":"quantitative"},"text":{"field":"a"},"color":{"field":"s","type":"nominal","scale":{"range":["#878787","#E0A433"]},"legend":null}}}
]},
{"width":160,"height":160,"transform":[{"filter":"datum.p==24"}],
"encoding":{"x":{"field":"t","type":"quantitative","scale":{"domain":[0,2000]},"axis":{"labels":false,"ticks":false,"title":null}}},
"layer":[
{"transform":[{"filter":"datum.b&&datum.s=='g'"}],"mark":"area","encoding":{"y":{"field":"lo","type":"quantitative","scale":{"domain":[0,100]},"axis":{"labels":false,"ticks":false,"title":null}},"y2":{"field":"hi"},"fill":{"field":"b","type":"nominal","sort":"descending","legend":null}}},
{"transform":[{"filter":"datum.l&&datum.s=='g'"}],"mark":{"type":"line","color":"#878787"},"encoding":{"y":{"field":"v","type":"quantitative"},"detail":{"field":"l"}}},
{"transform":[{"filter":"datum.l&&datum.s=='g'"}],"mark":{"type":"point","color":"#878787"},"encoding":{"y":{"field":"v","type":"quantitative"},"shape":{"field":"l","type":"nominal","scale":{"domain":["Corner","Source"],"range":["triangle-up","circle"]},"legend":null}}},
{"transform":[{"filter":"datum.b&&datum.s=='o'"}],"mark":"area","encoding":{"y":{"field":"lo","type":"quantitative"},"y2":{"field":"hi"},"fill":{"field":"b","type":"nominal","sort":"descending","legend":null}}},
{"transform":[{"filter":"datum.l&&datum.s=='o'"}],"mark":{"type":"line","color":"#E0A433"},"encoding":{"y":{"field":"v","type":"quantitative"},"detail":{"field":"l"}}},
{"transform":[{"filter":"datum.l&&datum.s=='o'"}],"mark":{"type":"point","color":"#E0A433"},"encoding":{"y":{"field":"v","type":"quantitative"},"shape":{"field":"l","type":"nominal","scale":{"domain":["Corner","Source"],"range":["triangle-up","circle"]},"legend":null}}},
{"transform":[{"filter":"datum.a"}],"mark":"text","encoding":{"y":{"field":"v","type":"quantitative"},"text":{"field":"a"},"color":{"field":"s","type":"nominal","scale":{"range":["#878787","#E0A433"]},"legend":null}}}
]},
{"width":160,"height":160,"transform":[{"filter":"datum.p==25"}],
"resolve":{"scale":{"shape":"independent"},"legend":{"shape":"independent"}},
"encoding":{"x":{"field":"t","type":"quantitative","scale":{"domain":[0,2000]},"axis":{"labels":false,"ticks":false,"title":null}}},
"layer":[
{"transform":[{"filter":"datum.b&&datum.s=='g'"}],"mark":"area","encoding":{"y":{"field":"lo","type":"quantitative","scale":{"domain":[0,100]},"axis":{"labels":false,"ticks":false,"title":null}},"y2":{"field":"hi"},"fill":{"field":"b","type":"nominal","sort":"descending","legend":{"orient":"none","legendX":180,"legendY":-5,"title":null,"symbolType":"M-1.067,-0.8H1.067V0.8H-1.067Z","symbolSize":1406,"symbolStrokeWidth":2.5,"symbolStrokeColor":"#333","symbolOpacity":1,"rowPadding":1.5,"labelOffset":14.5}}}},
{"transform":[{"filter":"datum.l&&datum.s=='g'"}],"mark":{"type":"line","color":"#878787"},"encoding":{"y":{"field":"v","type":"quantitative"},"detail":{"field":"l"}}},
{"transform":[{"filter":"datum.l&&datum.s=='g'"}],"mark":{"type":"point","color":"#878787"},"encoding":{"y":{"field":"v","type":"quantitative"},"shape":{"field":"l","type":"nominal","scale":{"domain":["Corner","Source"],"range":["triangle-up","circle"]},"legend":null}}},
{"transform":[{"filter":"datum.b&&datum.s=='o'"}],"mark":"area","encoding":{"y":{"field":"lo","type":"quantitative"},"y2":{"field":"hi"},"fill":{"field":"b","type":"nominal","sort":"descending","legend":{"orient":"none","legendX":180,"legendY":-5,"title":null,"symbolType":"M-1.067,-0.8H1.067V0.8H-1.067Z","symbolSize":1406,"symbolStrokeWidth":2.5,"symbolStrokeColor":"#333","symbolOpacity":1,"rowPadding":1.5,"labelOffset":14.5}}}},
{"transform":[{"filter":"datum.l&&datum.s=='o'"}],"mark":{"type":"line","color":"#E0A433"},"encoding":{"y":{"field":"v","type":"quantitative"},"detail":{"field":"l"}}},
{"transform":[{"filter":"datum.l&&datum.s=='o'"}],"mark":{"type":"point","color":"#E0A433"},"encoding":{"y":{"field":"v","type":"quantitative"},"shape":{"field":"l","type":"nominal","scale":{"domain":["Corner","Source"],"range":["triangle-up","circle"]},"legend":null}}},
{"transform":[{"filter":"datum.l"}],"mark":{"type":"point","color":"#222","opacity":0},"encoding":{"y":{"field":"v","type":"quantitative"},"shape":{"field":"l","type":"nominal","scale":{"domain":["Corner","Source"],"range":["M-1.2,-0.06H-0.8V0.06H-1.2Z M0.8,-0.06H1.2V0.06H0.8Z M-0.4,0.29L0,-0.31L0.4,0.29Z","M-1.2,-0.06H-0.8V0.06H-1.2Z M0.8,-0.06H1.2V0.06H0.8Z M-0.3,0A0.3,0.3,0,1,0,0.3,0A0.3,0.3,0,1,0,-0.3,0Z"]},"legend":{"orient":"none","legendX":184,"legendY":78.5,"title":null,"symbolSize":1225,"symbolStrokeWidth":0,"symbolFillColor":"#222","symbolOpacity":1,"rowPadding":9,"labelOffset":16.7}}}},
{"transform":[{"filter":"datum.a"}],"mark":"text","encoding":{"y":{"field":"v","type":"quantitative"},"text":{"field":"a"},"color":{"field":"s","type":"nominal","scale":{"range":["#878787","#E0A433"]},"legend":null}}}
]}
]},
{"spacing":50,"bounds":"flush","resolve":{"scale":{"fill":"independent","shape":"independent","color":"independent"},"legend":{"fill":"independent","shape":"independent"}},
"hconcat":[
{"width":160,"height":160,"transform":[{"filter":"datum.p==31"}],
"encoding":{"x":{"field":"t","type":"quantitative","scale":{"domain":[0,2000]},"axis":{"values":[0,1000,2000],"format":"d","ticks":true,"title":null}}},
"layer":[
{"transform":[{"filter":"datum.b&&datum.s=='g'"}],"mark":"area","encoding":{"y":{"field":"lo","type":"quantitative","scale":{"domain":[0,100]},"axis":{"values":[0,20,40,60,80,100],"title":"Two invasions"}},"y2":{"field":"hi"},"fill":{"field":"b","type":"nominal","sort":"descending","legend":null}}},
{"transform":[{"filter":"datum.l&&datum.s=='g'"}],"mark":{"type":"line","color":"#878787"},"encoding":{"y":{"field":"v","type":"quantitative"},"detail":{"field":"l"}}},
{"transform":[{"filter":"datum.l&&datum.s=='g'"}],"mark":{"type":"point","color":"#878787"},"encoding":{"y":{"field":"v","type":"quantitative"},"shape":{"field":"l","type":"nominal","scale":{"domain":["Corner","Source"],"range":["triangle-up","circle"]},"legend":null}}},
{"transform":[{"filter":"datum.b&&datum.s=='o'"}],"mark":"area","encoding":{"y":{"field":"lo","type":"quantitative"},"y2":{"field":"hi"},"fill":{"field":"b","type":"nominal","sort":"descending","legend":null}}},
{"transform":[{"filter":"datum.l&&datum.s=='o'"}],"mark":{"type":"line","color":"#E0A433"},"encoding":{"y":{"field":"v","type":"quantitative"},"detail":{"field":"l"}}},
{"transform":[{"filter":"datum.l&&datum.s=='o'"}],"mark":{"type":"point","color":"#E0A433"},"encoding":{"y":{"field":"v","type":"quantitative"},"shape":{"field":"l","type":"nominal","scale":{"domain":["Corner","Source"],"range":["triangle-up","circle"]},"legend":null}}},
{"transform":[{"filter":"datum.a"}],"mark":"text","encoding":{"y":{"field":"v","type":"quantitative"},"text":{"field":"a"},"color":{"field":"s","type":"nominal","scale":{"range":["#878787","#E0A433"]},"legend":null}}}
]},
{"width":160,"height":160,"transform":[{"filter":"datum.p==32"}],
"encoding":{"x":{"field":"t","type":"quantitative","scale":{"domain":[0,2000]},"axis":{"values":[0,1000,2000],"format":"d","ticks":true,"title":null}}},
"layer":[
{"transform":[{"filter":"datum.b&&datum.s=='g'"}],"mark":"area","encoding":{"y":{"field":"lo","type":"quantitative","scale":{"domain":[0,100]},"axis":{"labels":false,"ticks":false,"title":null}},"y2":{"field":"hi"},"fill":{"field":"b","type":"nominal","sort":"descending","legend":null}}},
{"transform":[{"filter":"datum.l&&datum.s=='g'"}],"mark":{"type":"line","color":"#878787"},"encoding":{"y":{"field":"v","type":"quantitative"},"detail":{"field":"l"}}},
{"transform":[{"filter":"datum.l&&datum.s=='g'"}],"mark":{"type":"point","color":"#878787"},"encoding":{"y":{"field":"v","type":"quantitative"},"shape":{"field":"l","type":"nominal","scale":{"domain":["Corner","Source"],"range":["triangle-up","circle"]},"legend":null}}},
{"transform":[{"filter":"datum.b&&datum.s=='o'"}],"mark":"area","encoding":{"y":{"field":"lo","type":"quantitative"},"y2":{"field":"hi"},"fill":{"field":"b","type":"nominal","sort":"descending","legend":null}}},
{"transform":[{"filter":"datum.l&&datum.s=='o'"}],"mark":{"type":"line","color":"#E0A433"},"encoding":{"y":{"field":"v","type":"quantitative"},"detail":{"field":"l"}}},
{"transform":[{"filter":"datum.l&&datum.s=='o'"}],"mark":{"type":"point","color":"#E0A433"},"encoding":{"y":{"field":"v","type":"quantitative"},"shape":{"field":"l","type":"nominal","scale":{"domain":["Corner","Source"],"range":["triangle-up","circle"]},"legend":null}}},
{"transform":[{"filter":"datum.a"}],"mark":"text","encoding":{"y":{"field":"v","type":"quantitative"},"text":{"field":"a"},"color":{"field":"s","type":"nominal","scale":{"range":["#878787","#E0A433"]},"legend":null}}}
]},
{"width":160,"height":160,"transform":[{"filter":"datum.p==33"}],
"encoding":{"x":{"field":"t","type":"quantitative","scale":{"domain":[0,2000]},"axis":{"values":[0,1000,2000],"format":"d","ticks":true,"title":"Time (generations)","titleFontSize":32.5,"titleX":-43,"titlePadding":13}}},
"layer":[
{"transform":[{"filter":"datum.b&&datum.s=='g'"}],"mark":"area","encoding":{"y":{"field":"lo","type":"quantitative","scale":{"domain":[0,100]},"axis":{"labels":false,"ticks":false,"title":null}},"y2":{"field":"hi"},"fill":{"field":"b","type":"nominal","sort":"descending","legend":null}}},
{"transform":[{"filter":"datum.l&&datum.s=='g'"}],"mark":{"type":"line","color":"#878787"},"encoding":{"y":{"field":"v","type":"quantitative"},"detail":{"field":"l"}}},
{"transform":[{"filter":"datum.l&&datum.s=='g'"}],"mark":{"type":"point","color":"#878787"},"encoding":{"y":{"field":"v","type":"quantitative"},"shape":{"field":"l","type":"nominal","scale":{"domain":["Corner","Source"],"range":["triangle-up","circle"]},"legend":null}}},
{"transform":[{"filter":"datum.b&&datum.s=='o'"}],"mark":"area","encoding":{"y":{"field":"lo","type":"quantitative"},"y2":{"field":"hi"},"fill":{"field":"b","type":"nominal","sort":"descending","legend":null}}},
{"transform":[{"filter":"datum.l&&datum.s=='o'"}],"mark":{"type":"line","color":"#E0A433"},"encoding":{"y":{"field":"v","type":"quantitative"},"detail":{"field":"l"}}},
{"transform":[{"filter":"datum.l&&datum.s=='o'"}],"mark":{"type":"point","color":"#E0A433"},"encoding":{"y":{"field":"v","type":"quantitative"},"shape":{"field":"l","type":"nominal","scale":{"domain":["Corner","Source"],"range":["triangle-up","circle"]},"legend":null}}},
{"transform":[{"filter":"datum.a"}],"mark":"text","encoding":{"y":{"field":"v","type":"quantitative"},"text":{"field":"a"},"color":{"field":"s","type":"nominal","scale":{"range":["#878787","#E0A433"]},"legend":null}}}
]},
{"width":160,"height":160,"transform":[{"filter":"datum.p==34"}],
"encoding":{"x":{"field":"t","type":"quantitative","scale":{"domain":[0,2000]},"axis":{"values":[0,1000,2000],"format":"d","ticks":true,"title":null}}},
"layer":[
{"transform":[{"filter":"datum.b&&datum.s=='g'"}],"mark":"area","encoding":{"y":{"field":"lo","type":"quantitative","scale":{"domain":[0,100]},"axis":{"labels":false,"ticks":false,"title":null}},"y2":{"field":"hi"},"fill":{"field":"b","type":"nominal","sort":"descending","legend":null}}},
{"transform":[{"filter":"datum.l&&datum.s=='g'"}],"mark":{"type":"line","color":"#878787"},"encoding":{"y":{"field":"v","type":"quantitative"},"detail":{"field":"l"}}},
{"transform":[{"filter":"datum.l&&datum.s=='g'"}],"mark":{"type":"point","color":"#878787"},"encoding":{"y":{"field":"v","type":"quantitative"},"shape":{"field":"l","type":"nominal","scale":{"domain":["Corner","Source"],"range":["triangle-up","circle"]},"legend":null}}},
{"transform":[{"filter":"datum.b&&datum.s=='o'"}],"mark":"area","encoding":{"y":{"field":"lo","type":"quantitative"},"y2":{"field":"hi"},"fill":{"field":"b","type":"nominal","sort":"descending","legend":null}}},
{"transform":[{"filter":"datum.l&&datum.s=='o'"}],"mark":{"type":"line","color":"#E0A433"},"encoding":{"y":{"field":"v","type":"quantitative"},"detail":{"field":"l"}}},
{"transform":[{"filter":"datum.l&&datum.s=='o'"}],"mark":{"type":"point","color":"#E0A433"},"encoding":{"y":{"field":"v","type":"quantitative"},"shape":{"field":"l","type":"nominal","scale":{"domain":["Corner","Source"],"range":["triangle-up","circle"]},"legend":null}}},
{"transform":[{"filter":"datum.a"}],"mark":"text","encoding":{"y":{"field":"v","type":"quantitative"},"text":{"field":"a"},"color":{"field":"s","type":"nominal","scale":{"range":["#878787","#E0A433"]},"legend":null}}}
]},
{"width":160,"height":160,"transform":[{"filter":"datum.p==35"}],
"resolve":{"scale":{"shape":"independent"},"legend":{"shape":"independent"}},
"encoding":{"x":{"field":"t","type":"quantitative","scale":{"domain":[0,2000]},"axis":{"values":[0,1000,2000],"format":"d","ticks":true,"title":null}}},
"layer":[
{"transform":[{"filter":"datum.b&&datum.s=='g'"}],"mark":"area","encoding":{"y":{"field":"lo","type":"quantitative","scale":{"domain":[0,100]},"axis":{"labels":false,"ticks":false,"title":null}},"y2":{"field":"hi"},"fill":{"field":"b","type":"nominal","sort":"descending","legend":{"orient":"none","legendX":180,"legendY":-5,"title":null,"symbolType":"M-1.067,-0.8H1.067V0.8H-1.067Z","symbolSize":1406,"symbolStrokeWidth":2.5,"symbolStrokeColor":"#333","symbolOpacity":1,"rowPadding":1.5,"labelOffset":14.5}}}},
{"transform":[{"filter":"datum.l&&datum.s=='g'"}],"mark":{"type":"line","color":"#878787"},"encoding":{"y":{"field":"v","type":"quantitative"},"detail":{"field":"l"}}},
{"transform":[{"filter":"datum.l&&datum.s=='g'"}],"mark":{"type":"point","color":"#878787"},"encoding":{"y":{"field":"v","type":"quantitative"},"shape":{"field":"l","type":"nominal","scale":{"domain":["Corner","Source"],"range":["triangle-up","circle"]},"legend":null}}},
{"transform":[{"filter":"datum.b&&datum.s=='o'"}],"mark":"area","encoding":{"y":{"field":"lo","type":"quantitative"},"y2":{"field":"hi"},"fill":{"field":"b","type":"nominal","sort":"descending","legend":{"orient":"none","legendX":180,"legendY":-5,"title":null,"symbolType":"M-1.067,-0.8H1.067V0.8H-1.067Z","symbolSize":1406,"symbolStrokeWidth":2.5,"symbolStrokeColor":"#333","symbolOpacity":1,"rowPadding":1.5,"labelOffset":14.5}}}},
{"transform":[{"filter":"datum.l&&datum.s=='o'"}],"mark":{"type":"line","color":"#E0A433"},"encoding":{"y":{"field":"v","type":"quantitative"},"detail":{"field":"l"}}},
{"transform":[{"filter":"datum.l&&datum.s=='o'"}],"mark":{"type":"point","color":"#E0A433"},"encoding":{"y":{"field":"v","type":"quantitative"},"shape":{"field":"l","type":"nominal","scale":{"domain":["Corner","Source"],"range":["triangle-up","circle"]},"legend":null}}},
{"transform":[{"filter":"datum.l"}],"mark":{"type":"point","color":"#222","opacity":0},"encoding":{"y":{"field":"v","type":"quantitative"},"shape":{"field":"l","type":"nominal","scale":{"domain":["Corner","Source"],"range":["M-1.2,-0.06H-0.8V0.06H-1.2Z M0.8,-0.06H1.2V0.06H0.8Z M-0.4,0.29L0,-0.31L0.4,0.29Z","M-1.2,-0.06H-0.8V0.06H-1.2Z M0.8,-0.06H1.2V0.06H0.8Z M-0.3,0A0.3,0.3,0,1,0,0.3,0A0.3,0.3,0,1,0,-0.3,0Z"]},"legend":{"orient":"none","legendX":184,"legendY":78.5,"title":null,"symbolSize":1225,"symbolStrokeWidth":0,"symbolFillColor":"#222","symbolOpacity":1,"rowPadding":9,"labelOffset":16.7}}}},
{"transform":[{"filter":"datum.a"}],"mark":"text","encoding":{"y":{"field":"v","type":"quantitative"},"text":{"field":"a"},"color":{"field":"s","type":"nominal","scale":{"range":["#878787","#E0A433"]},"legend":null}}}
]}
]}
],
"config":{
"font":"Liberation Sans",
"view":{"stroke":null},
"title":{"fontSize":22,"fontWeight":"bold","color":"#222","font":"Liberation Sans","subtitleFont":"Liberation Sans","subtitleFontSize":11.5,"subtitleColor":"#222","subtitlePadding":1.5},
"axis":{"domainColor":"#222","domainWidth":2,"tickColor":"#222","tickWidth":2,"labelFontSize":15,"labelColor":"#222","labelFont":"Liberation Sans","labelOverlap":false,"labelFlush":false,"grid":false,"titleColor":"#222","titleFont":"Liberation Sans","titleFontWeight":"bold","titleFontSize":18},
"axisX":{"tickSize":12,"labelPadding":21},
"axisY":{"tickSize":14,"labelPadding":7,"titlePadding":19},
"legend":{"labelFontSize":16.5,"labelColor":"#222","labelFont":"Liberation Sans"},
"point":{"filled":true,"opacity":1,"size":150},
"line":{"strokeDash":[7,5],"strokeWidth":2},
"text":{"font":"DejaVu Sans","fontSize":22,"baseline":"middle"},
"area":{"opacity":1},
"range":{"category":["rgba(211,211,211,0.5)","rgba(245,239,170,0.45)"]}
}
}
